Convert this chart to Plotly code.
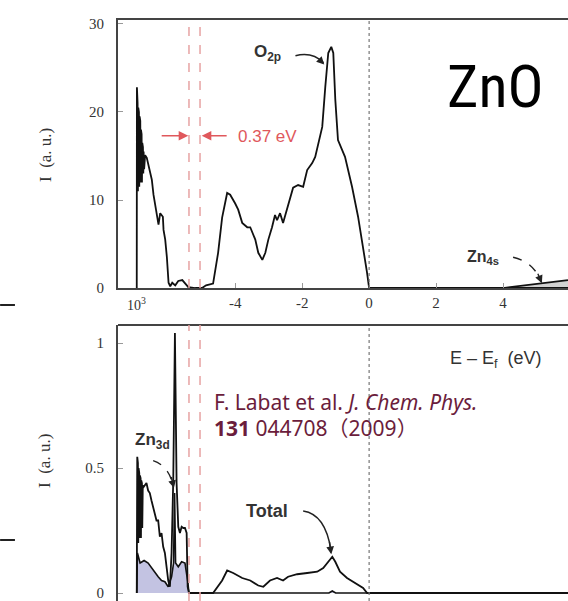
import plotly.graph_objects as go

# ---------------- data ----------------
# Top panel: O 2p projected DOS
o2p_E = [-6.94, -6.935, -6.925, -6.915, -6.905, -6.895, -6.885, -6.875, -6.865, -6.855,
         -6.845, -6.835, -6.825, -6.815, -6.805, -6.795, -6.785, -6.775, -6.765, -6.755,
         -6.745, -6.735, -6.72, -6.69, -6.64,
         -6.54, -6.49, -6.44, -6.34, -6.29, -6.24, -6.16, -6.14, -6.09, -6.04,
         -5.99, -5.94, -5.88, -5.79, -5.70, -5.58, -5.49, -5.40, -5.19, -4.99,
         -4.87, -4.75, -4.66, -4.51, -4.39, -4.24, -4.15, -4.00, -3.91, -3.79,
         -3.64, -3.55, -3.40, -3.31, -3.19, -3.10, -3.01, -2.90, -2.81, -2.75,
         -2.66, -2.57, -2.45, -2.36, -2.27, -2.12, -1.97, -1.85, -1.70, -1.61,
         -1.52, -1.40, -1.31, -1.22, -1.13, -1.07, -1.01, -0.93, -0.72, -0.51,
         -0.33, -0.18, -0.06, 0.0, 6.0]
o2p_I = [0.0, 22.8, 12.0, 21.0, 11.0, 20.5, 12.0, 20.0, 11.5, 19.5,
         12.5, 19.0, 12.0, 18.0, 12.5, 17.5, 12.0, 16.5, 12.5, 16.0,
         13.0, 15.5, 13.5, 15.1, 14.8,
         13.0, 12.3, 10.6, 8.1, 7.2, 8.5, 8.1, 6.6, 5.5, 3.5,
         0.6, 0.2, 0.6, 0.3, 0.8, 0.9, 0.5, 0.1, 0.0, 0.0,
         0.3, 0.4, 0.5, 4.0, 8.0, 10.8, 10.6, 9.6, 8.9, 7.4,
         6.9, 6.9, 5.5, 4.0, 3.2, 4.0, 5.5, 6.9, 8.3, 7.7,
         8.5, 7.4, 8.9, 10.0, 11.4, 11.7, 11.5, 13.4, 14.2, 14.9,
         16.5, 18.3, 22.8, 26.7, 27.4, 26.7, 21.4, 16.8, 14.9, 11.5,
         8.1, 4.7, 1.7, 0.0, 0.0]

# Top panel: Zn 4s (shaded)
zn4s_E = [4.0, 4.5, 5.1, 5.94]
zn4s_I = [0.0, 0.25, 0.5, 0.9]

# Bottom panel: total DOS
total_E = [-6.94, -6.925, -6.915, -6.905, -6.895, -6.885, -6.875, -6.865, -6.855, -6.845,
           -6.835, -6.825, -6.815, -6.805, -6.795, -6.785, -6.775, -6.76, -6.73,
           -6.65, -6.60, -6.55, -6.50, -6.45,
           -6.40, -6.35, -6.30, -6.25, -6.20, -6.15, -6.10, -6.05, -6.00, -5.95,
           -5.90, -5.85, -5.80, -5.75, -5.70, -5.65, -5.60, -5.55, -5.50, -5.45,
           -5.42, -5.38, -4.90, -4.66, -4.39, -4.24, -4.06, -3.79, -3.55, -3.31,
           -3.16, -2.96, -2.75, -2.57, -2.42, -2.15, -1.85, -1.55, -1.37, -1.22,
           -1.10, -1.01, -0.87, -0.66, -0.42, -0.18, -0.06, 6.0]
total_I = [0.0, 0.545, 0.22, 0.52, 0.20, 0.50, 0.24, 0.48, 0.22, 0.47,
           0.24, 0.46, 0.22, 0.45, 0.25, 0.44, 0.26, 0.43, 0.425,
           0.44, 0.41, 0.40, 0.37, 0.345,
           0.32, 0.29, 0.29, 0.225, 0.24, 0.185, 0.16, 0.105, 0.05, 0.025,
           0.16, 0.45, 1.04, 0.44, 0.265, 0.24, 0.265, 0.26, 0.26, 0.24,
           0.025, 0.0, 0.0, 0.0, 0.05, 0.09, 0.08, 0.06, 0.05, 0.03,
           0.025, 0.05, 0.06, 0.05, 0.065, 0.075, 0.08, 0.085, 0.10, 0.125,
           0.145, 0.125, 0.085, 0.06, 0.04, 0.02, 0.0, 0.0]

# Bottom panel: Zn 3d (shaded)
zn3d_E = [-6.94, -6.92, -6.84, -6.72, -6.60, -6.50, -6.40, -6.30, -6.20, -6.10,
          -6.00, -5.90, -5.84, -5.81, -5.78, -5.70, -5.60, -5.50, -5.42, -5.38,
          -1.20, -1.10, -1.00, 6.0]
zn3d_I = [0.0, 0.16, 0.12, 0.13, 0.12, 0.10, 0.085, 0.065, 0.05, 0.045,
          0.025, 0.065, 0.12, 0.40, 0.12, 0.105, 0.125, 0.12, 0.05, 0.0,
          0.0, 0.008, 0.0, 0.0]

gap_edges = [-5.38, -5.05]   # red dashed lines (0.37 eV gap marker)
fermi = 0.0

x_ticks = [-4, -2, 0, 2, 4]
x_ticklabels = ["-4", "-2", "0", "2", "4"]
y1_ticks = [0, 10, 20, 30]
y2_ticks = [0, 0.5, 1]
y2_ticklabels = ["0", "0.5", "1"]

# ---------------- figure ----------------
fig = go.Figure()
fig.add_trace(go.Scatter(x=zn4s_E, y=zn4s_I, mode="lines", fill="tozeroy",
                         fillcolor="#d2d2d2", line=dict(color="#111", width=1.6),
                         xaxis="x", yaxis="y", showlegend=False))
fig.add_trace(go.Scatter(x=o2p_E, y=o2p_I, mode="lines",
                         line=dict(color="#111", width=1.8),
                         xaxis="x", yaxis="y", showlegend=False))
fig.add_trace(go.Scatter(x=zn3d_E, y=zn3d_I, mode="lines", fill="tozeroy",
                         fillcolor="#c3c3e2", line=dict(color="#111", width=1.6),
                         xaxis="x2", yaxis="y2", showlegend=False))
fig.add_trace(go.Scatter(x=total_E, y=total_I, mode="lines",
                         line=dict(color="#111", width=1.8),
                         xaxis="x2", yaxis="y2", showlegend=False))

tickfont = dict(family="Liberation Serif", size=15, color="#333")
axcol = "#444"
xr = [-7.5, 5.94]

fig.update_layout(
    width=568, height=601,
    margin=dict(l=118, r=0, t=20, b=0),
    paper_bgcolor="white", plot_bgcolor="white",
    xaxis=dict(domain=[0, 1], anchor="y", range=xr, tickvals=x_ticks, ticktext=x_ticklabels,
               ticks="inside", ticklen=5, tickcolor="#999", showline=True,
               mirror=True, linecolor=axcol, linewidth=2, showgrid=False,
               zeroline=False, tickfont=tickfont, automargin=False),
    yaxis=dict(domain=[0.5387, 1], anchor="x", range=[0, 30.45], tickvals=y1_ticks,
               ticks="inside", ticklen=5, tickcolor="#999", showline=True,
               linecolor=axcol, linewidth=2, showgrid=False, zeroline=False,
               tickfont=tickfont, ticklabelstandoff=9, automargin=False),
    xaxis2=dict(domain=[0, 1], anchor="y2", range=xr, showticklabels=False,
                ticks="", showline=False, showgrid=False, zeroline=False,
                automargin=False),
    yaxis2=dict(domain=[0, 0.475], anchor="x2", range=[-0.032, 1.072],
                tickvals=y2_ticks, ticktext=y2_ticklabels,
                ticks="inside", ticklen=5, tickcolor="#999", showline=True,
                linecolor=axcol, linewidth=2, showgrid=False, zeroline=False,
                tickfont=tickfont, ticklabelstandoff=9, automargin=False,
                ticklabeloverflow="allow"),
)

shapes = []
# top border of lower panel
shapes.append(dict(type="line", xref="paper", yref="paper", x0=0, x1=1, y0=0.475, y1=0.475,
                   line=dict(color=axcol, width=2)))
for xa, ya in (("x", "y domain"), ("x2", "y2 domain")):
    for g in gap_edges:
        shapes.append(dict(type="line", xref=xa, yref=ya, x0=g, x1=g, y0=0, y1=1,
                           line=dict(color="#e7a3a3", width=1.5, dash="dash")))
    shapes.append(dict(type="line", xref=xa, yref=ya, x0=fermi, x1=fermi, y0=0, y1=1,
                       line=dict(color="#777", width=1.2, dash="dot")))
# curved arrow shafts
shapes.append(dict(type="path", xref="x", yref="y",
                   path="M -2.20,26.4 Q -1.70,26.9 -1.36,25.6",
                   line=dict(color="#222", width=1.5)))
shapes.append(dict(type="path", xref="x", yref="y",
                   path="M 4.30,3.5 Q 4.90,3.0 5.15,0.7",
                   line=dict(color="#222", width=1.4, dash="dash")))
shapes.append(dict(type="path", xref="x2", yref="y2",
                   path="M -1.97,0.328 Q -1.30,0.315 -1.14,0.17",
                   line=dict(color="#222", width=1.5)))
shapes.append(dict(type="path", xref="x2", yref="y2",
                   path="M -6.45,0.53 Q -6.00,0.51 -5.85,0.43",
                   line=dict(color="#222", width=1.3, dash="dash")))
# fragments of neighbouring panel at the far left
for yy in (0.5095, 0.105):
    shapes.append(dict(type="line", xref="paper", yref="paper", x0=-0.262, x1=-0.229,
                       y0=yy, y1=yy, line=dict(color="#222", width=2)))
fig.update_layout(shapes=shapes)

ann = []
ann.append(dict(x=3.76, y=22.9, xref="x", yref="y", text="ZnO", showarrow=False,
                font=dict(family="Liberation Sans Narrow, Roboto Condensed, Noto Sans CJK JP",
                          size=60, color="#000")))
ann.append(dict(x=-3.04, y=26.7, xref="x", yref="y", text="<b>O<sub>2p</sub></b>",
                showarrow=False, font=dict(family="Liberation Sans", size=17, color="#333")))
ann.append(dict(x=3.40, y=3.5, xref="x", yref="y", text="<b>Zn<sub>4s</sub></b>",
                showarrow=False, font=dict(family="Liberation Sans", size=16, color="#333")))
ann.append(dict(x=-6.48, y=0.61, xref="x2", yref="y2", text="<b>Zn<sub>3d</sub></b>",
                showarrow=False, font=dict(family="Liberation Sans", size=17, color="#333")))
ann.append(dict(x=-3.04, y=0.33, xref="x2", yref="y2", text="<b>Total</b>",
                showarrow=False, font=dict(family="Liberation Sans", size=18, color="#333")))
ann.append(dict(x=3.79, y=0.935, xref="x2", yref="y2", text="E – E<sub>f</sub>  (eV)",
                showarrow=False, font=dict(family="Liberation Sans", size=18, color="#333")))
# arrowheads
for (hx, hy, tx, ty, xa, ya) in ((-1.34, 25.4, -1.52, 26.1, "x", "y"),
                                 (5.16, 0.55, 5.02, 1.8, "x", "y"),
                                 (-1.13, 0.155, -1.19, 0.21, "x2", "y2"),
                                 (-5.83, 0.42, -5.92, 0.47, "x2", "y2")):
    ann.append(dict(x=hx, y=hy, ax=tx, ay=ty, xref=xa, yref=ya, axref=xa, ayref=ya,
                    text="", showarrow=True, arrowhead=2, arrowsize=1.1, arrowwidth=1.4,
                    arrowcolor="#222"))
# 0.37 eV marker
red = "#e0585c"
ann.append(dict(x=-5.40, y=17.3, ax=-6.24, ay=17.3, xref="x", yref="y", axref="x", ayref="y",
                text="", showarrow=True, arrowhead=2, arrowsize=1.2, arrowwidth=1.6, arrowcolor=red))
ann.append(dict(x=-5.00, y=17.3, ax=-4.21, ay=17.3, xref="x", yref="y", axref="x", ayref="y",
                text="", showarrow=True, arrowhead=2, arrowsize=1.2, arrowwidth=1.6, arrowcolor=red))
ann.append(dict(x=-3.98, y=17.2, xref="x", yref="y", text="0.37 eV", xanchor="left",
                showarrow=False, font=dict(family="Liberation Sans", size=17, color=red)))
# citation
cite = dict(family="Noto Sans, Noto Sans CJK JP", size=21, color="#6b1d3c")
ann.append(dict(x=-4.68, y=0.765, xref="x2", yref="y2", xanchor="left",
                text="F. Labat et al. <i>J. Chem. Phys.</i>", showarrow=False, font=cite))
ann.append(dict(x=-4.68, y=0.66, xref="x2", yref="y2", xanchor="left",
                text="<b>131</b> 044708（2009）", showarrow=False, font=cite))
# stray label and axis titles
ann.append(dict(x=0.04, y=0.512, xref="paper", yref="paper", text="10<sup>3</sup>",
                xanchor="center", yanchor="middle",
                showarrow=False, font=dict(family="Liberation Serif", size=14, color="#333")))
for yy in (0.7676, 0.241):
    ann.append(dict(x=-0.1622, y=yy, xref="paper", yref="paper", text="I  (a. u.)",
                    xanchor="center", yanchor="middle",
                    textangle=-90, showarrow=False,
                    font=dict(family="Liberation Serif", size=17, color="#333")))
fig.update_layout(annotations=ann)

fig.write_html("out.html")
